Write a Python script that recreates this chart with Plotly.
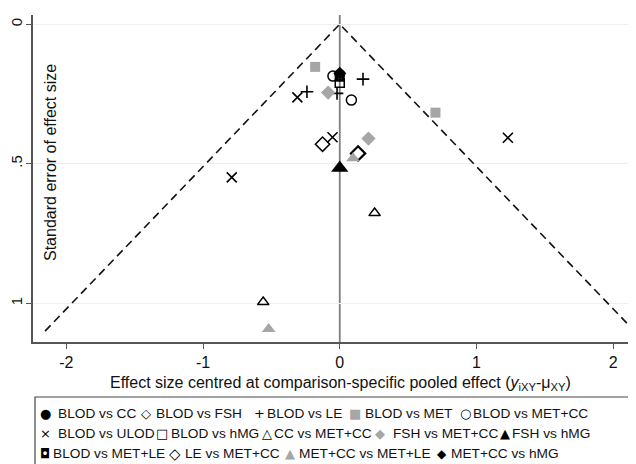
import plotly.graph_objects as go

# ---- data ----
comparisons = ["BLOD vs CC", "BLOD vs FSH", "BLOD vs LE", "BLOD vs MET", "BLOD vs MET+CC",
               "BLOD vs ULOD", "BLOD vs hMG", "CC vs MET+CC", "FSH vs MET+CC", "FSH vs hMG",
               "BLOD vs MET+LE", "LE vs MET+CC", "MET+CC vs MET+LE", "MET+CC vs hMG"]
effect_x = {
    "BLOD vs CC": [0.0],
    "BLOD vs FSH": [-0.126],
    "BLOD vs LE": [-0.24, -0.02, 0.17],
    "BLOD vs MET": [-0.18, 0.70],
    "BLOD vs MET+CC": [-0.05, 0.085],
    "BLOD vs ULOD": [-0.31, -0.053, 1.23, -0.79],
    "BLOD vs hMG": [0.0],
    "CC vs MET+CC": [0.255, -0.56],
    "FSH vs MET+CC": [-0.085, 0.21],
    "FSH vs hMG": [0.0],
    "BLOD vs MET+LE": [0.0],
    "LE vs MET+CC": [0.134],
    "MET+CC vs MET+LE": [0.097, -0.52],
    "MET+CC vs hMG": [0.0],
}
std_err = {
    "BLOD vs CC": [0.18],
    "BLOD vs FSH": [0.43],
    "BLOD vs LE": [0.242, 0.248, 0.197],
    "BLOD vs MET": [0.153, 0.317],
    "BLOD vs MET+CC": [0.186, 0.272],
    "BLOD vs ULOD": [0.262, 0.405, 0.407, 0.549],
    "BLOD vs hMG": [0.21],
    "CC vs MET+CC": [0.677, 0.996],
    "FSH vs MET+CC": [0.245, 0.41],
    "FSH vs hMG": [0.515],
    "BLOD vs MET+LE": [0.19],
    "LE vs MET+CC": [0.463],
    "MET+CC vs MET+LE": [0.48, 1.092],
    "MET+CC vs hMG": [0.176],
}
se_max = 1.1
z_crit = 1.96
x_ticks = [-2, -1, 0, 1, 2]
x_ticklabels = ["-2", "-1", "0", "1", "2"]
y_ticks = [0, 0.5, 1]
y_ticklabels = ["0", ".5", "1"]

# ---- styles ----
BLACK = "#000000"
GRAY = "#a6a6a6"
styles = {
    "BLOD vs CC": dict(symbol="circle", size=11, color=BLACK, lw=0),
    "BLOD vs FSH": dict(symbol="diamond-open", size=11, color=BLACK, lw=1.5),
    "BLOD vs LE": dict(symbol="cross-thin-open", size=9, color=BLACK, lw=1.6),
    "BLOD vs MET": dict(symbol="square", size=10, color=GRAY, lw=0),
    "BLOD vs MET+CC": dict(symbol="circle-open", size=10, color=BLACK, lw=1.5),
    "BLOD vs ULOD": dict(symbol="x-thin-open", size=10, color=BLACK, lw=1.6),
    "BLOD vs hMG": dict(symbol="square-open", size=9, color=BLACK, lw=1.5),
    "CC vs MET+CC": dict(symbol="triangle-up-open", size=10, color=BLACK, lw=1.5),
    "FSH vs MET+CC": dict(symbol="diamond", size=11, color=GRAY, lw=0),
    "FSH vs hMG": dict(symbol="triangle-up", size=15, color=BLACK, lw=0),
    "BLOD vs MET+LE": dict(symbol="square", size=9, color=BLACK, lw=0),
    "LE vs MET+CC": dict(symbol="diamond-open", size=11, color=BLACK, lw=2.2),
    "MET+CC vs MET+LE": dict(symbol="triangle-up", size=12, color=GRAY, lw=0),
    "MET+CC vs hMG": dict(symbol="diamond", size=10, color=BLACK, lw=0),
}

fig = go.Figure()

# pseudo 95% confidence limits
fig.add_trace(go.Scatter(
    x=[-z_crit * se_max, 0, z_crit * se_max], y=[se_max, 0, se_max],
    mode="lines", line=dict(color="#111111", width=1.6, dash="8px,5px"),
    hoverinfo="skip", showlegend=False))

for name in comparisons:
    s = styles[name]
    fig.add_trace(go.Scatter(
        x=effect_x[name], y=std_err[name], mode="markers", name=name, showlegend=False,
        marker=dict(symbol=s["symbol"], size=s["size"], color=s["color"],
                    line=dict(color=s["color"], width=s["lw"]))))
    if name == "BLOD vs MET+LE":
        fig.add_trace(go.Scatter(
            x=effect_x[name], y=std_err[name], mode="markers", showlegend=False,
            hoverinfo="skip", marker=dict(symbol="square", size=3, color="white")))

# ---- layout geometry (pixels) ----
# the page body has an 8px margin, so the figure is drawn 8px in from the window corner
OFF = 8
W, H = 636 - OFF, 464 - OFF
ML, MR, MT, MB = 33 - OFF, 0, 15 - OFF, 122
PW, PH = W - ML - MR, H - MT - MB


def px(xp):
    return (xp - OFF - ML) / PW


def py(yp):
    return (H - MB - (yp - OFF)) / PH


fig.add_shape(type="line", xref="x", yref="paper", x0=0, x1=0, y0=0, y1=1,
              line=dict(color="#7f7f7f", width=1.8), layer="below")

font_family = "Liberation Sans, Arial, sans-serif"

annotations = []
annotations.append(dict(
    text="Effect size centred at comparison-specific pooled effect (<i>y</i><sub>iXY</sub>-μ<sub>XY</sub>)",
    xref="paper", yref="paper", x=px(340), y=py(383), xanchor="center", yanchor="middle",
    showarrow=False, font=dict(size=16, color="#111111", family=font_family)))
annotations.append(dict(
    text="Standard error of effect size", textangle=-90,
    xref="paper", yref="paper", x=px(50), y=py(163), xanchor="center", yanchor="middle",
    showarrow=False, font=dict(size=16, color="#111111", family=font_family)))

# legend drawn as text rows (symbol glyph + label)
legend_items = [
    # glyph, glyph color, glyph size, glyph weight, glyph center x, label, label x, row y
    ("●", BLACK, 13, "normal", 45, "BLOD vs CC", 56, 413),
    ("◇", BLACK, 13, "normal", 146, "BLOD vs FSH", 154, 413),
    ("+", BLACK, 13, "normal", 259, "BLOD vs LE", 265, 413),
    ("■", GRAY, 13, "normal", 355, "BLOD vs MET", 363, 413),
    ("○", BLACK, 13, "normal", 466, "BLOD vs MET+CC", 471, 413),
    ("×", BLACK, 13, "normal", 45, "BLOD vs ULOD", 56, 433),
    ("□", BLACK, 13, "normal", 162, "BLOD vs hMG", 169, 433),
    ("△", BLACK, 13, "normal", 267, "CC vs MET+CC", 272, 433),
    ("◆", GRAY, 13, "normal", 380, "FSH vs MET+CC", 391, 433),
    ("▲", BLACK, 13, "normal", 505, "FSH vs hMG", 510, 433),
    ("◘", BLACK, 13, "normal", 45, "BLOD vs MET+LE", 51, 454),
    ("◇", BLACK, 15, "bold", 175, "LE vs MET+CC", 183, 454),
    ("▲", GRAY, 13, "normal", 290, "MET+CC vs MET+LE", 297, 454),
    ("◆", BLACK, 12, "normal", 442, "MET+CC vs hMG", 449, 454),
]
for glyph, gcol, gsize, gweight, gx, label, lx, ry in legend_items:
    annotations.append(dict(text=glyph, xref="paper", yref="paper", x=px(gx), y=py(ry),
                            xanchor="center", yanchor="middle", showarrow=False,
                            font=dict(size=gsize, color=gcol, family="DejaVu Sans",
                                      weight=gweight)))
    annotations.append(dict(text=label, xref="paper", yref="paper", x=px(lx), y=py(ry),
                            xanchor="left", yanchor="middle", showarrow=False,
                            font=dict(size=13.7, color="#111111", family=font_family)))

fig.add_shape(type="rect", xref="paper", yref="paper", x0=px(35), x1=px(660),
              y0=py(480), y1=py(397), line=dict(color="#444444", width=1.2))

fig.update_layout(
    width=W, height=H, margin=dict(l=ML, r=MR, t=MT, b=MB, pad=0, autoexpand=False),
    paper_bgcolor="white", plot_bgcolor="white",
    font=dict(family=font_family, size=15, color="#111111"),
    annotations=annotations,
    xaxis=dict(range=[-2.244, 2.167], tickvals=x_ticks, ticktext=x_ticklabels, automargin=False,
               showgrid=False, zeroline=False, showline=True, linecolor="#555555", linewidth=1.5,
               ticks="outside", ticklen=5, tickcolor="#555555", tickwidth=1.2,
               tickfont=dict(size=16)),
    yaxis=dict(range=[1.139, -0.033], tickvals=y_ticks, ticktext=y_ticklabels, automargin=False,
               showgrid=True, gridcolor="#efefef", gridwidth=1, zeroline=False,
               showline=True, linecolor="#555555", linewidth=1.5,
               ticks="outside", ticklen=5, tickcolor="#555555", tickwidth=1.2,
               ticklabelstandoff=-2, tickangle=-90, tickfont=dict(size=15)),
)

fig.write_html("out.html")
